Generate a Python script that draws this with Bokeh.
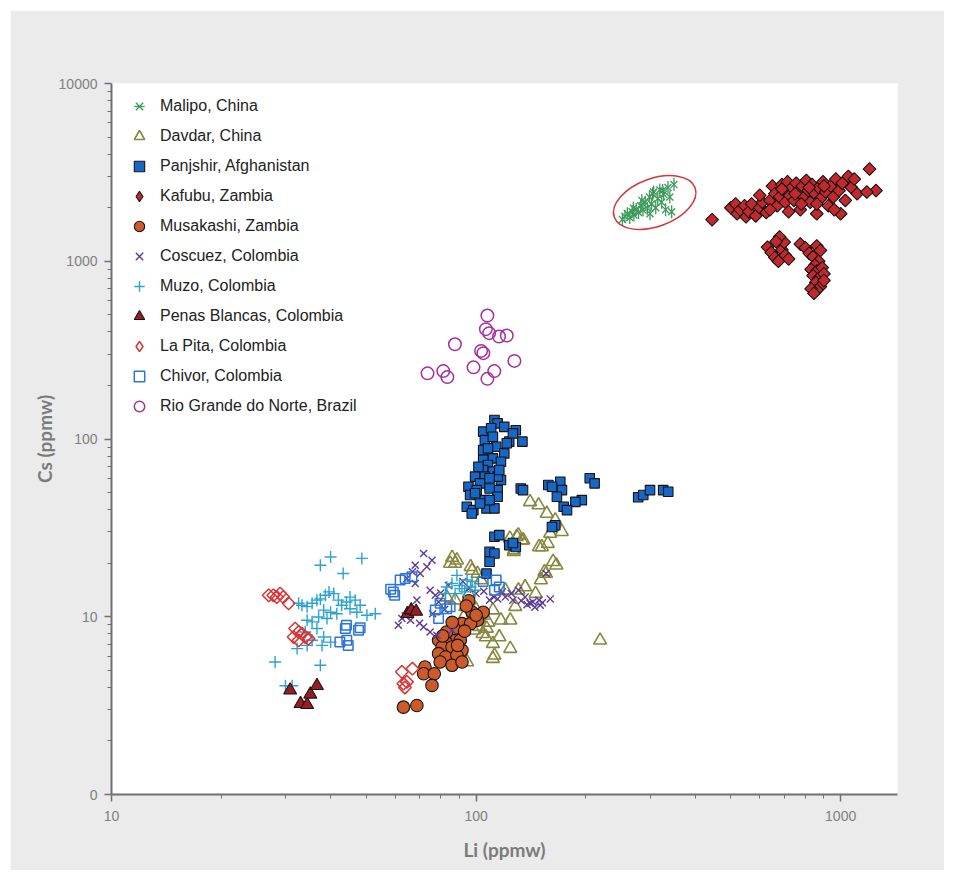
import math

from bokeh.embed import file_html
from bokeh.models import (CustomJSTickFormatter, FixedTicker, Legend,
                          LegendItem, Range1d)
from bokeh.plotting import figure
from bokeh.resources import INLINE

# ---------------------------------------------------------------------------
# Li and Cs concentrations (ppmw) of emeralds by locality
# ---------------------------------------------------------------------------
malipo_li = [252, 256, 260, 264, 268, 271, 275, 279, 283, 287, 291, 295, 299, 303, 307,
             311, 315, 319, 323, 327, 331, 336, 340, 344, 349, 270, 285, 305, 325, 300]
malipo_cs = [1720, 1790, 1850, 1760, 1900, 1820, 1960, 1880, 2050, 1940, 2150, 1990, 2300, 2100, 2450,
             2000, 2250, 2520, 2150, 2380, 1950, 2600, 2300, 1900, 2700, 1990, 2200, 2400, 2500, 1850]

davdar_li = [88.6, 87.6, 96.6, 100.9, 103.1, 95.5, 87.6, 93.5, 111.2, 102, 95.5, 98.7, 104.2, 106.4,
             115.8, 111.2, 124.1, 124.1, 112.3, 111.2, 94.5, 117, 130.7, 136.3, 145.6, 150.6, 155.6,
             162.6, 157.3, 148.8, 126.9, 129.3, 133.4, 218.9, 84.9, 83.1, 92.5, 120.3, 128.1, 86.7,
             140.6, 148.4, 156.3, 164.9, 171.8, 159.7, 151.5, 123.8, 130.7, 134.8, 126.9, 166, 154,
             86, 97.5, 100, 105, 108, 98, 102, 107]
davdar_cs = [20.8, 19.95, 19.1, 17.5, 16.1, 13.5, 12.4, 11.4, 10.9, 9.77, 9.15, 8.4, 8.03, 7.69,
             7.69, 7.06, 9.56, 6.62, 6.07, 5.81, 5.56, 9.56, 14.1, 14.7, 13.5, 16.1, 17.5,
             20.4, 25.8, 24.7, 23.7, 28.2, 27, 7.37, 19.95, 12.9, 9.97, 14.1, 11.4, 8.4,
             44.3, 42.5, 38.1, 35, 30.1, 29.4, 24.7, 27.6, 28.8, 27, 23.2, 19.5, 17.9,
             21.5, 18.2, 11, 10.2, 9.3, 10.5, 8.8, 8.6]

panjshir_li = [112.3, 114.6, 119.5, 104.6, 110, 128.5, 105.7, 111.2, 123.3, 134, 113.5, 104.6, 119.5,
               111.2, 104.6, 107.8, 117, 104.6, 111.2, 99.4, 105.7, 117, 95.3, 102.5, 114.6, 108.9,
               96.3, 105.7, 114.6, 94.3, 98.3, 106.8, 112.3, 97.3, 100.4, 121.4, 126.2, 107.8, 101.5,
               114.6, 99.4, 108.9, 102.5, 108.9, 115.8,
               132.6, 134.5, 157.8, 170.2, 172, 166.6, 161.5, 205, 211.4, 195, 187.2, 173.9, 177.6,
               278.4, 287.5, 300, 326, 336.6,
               112.3, 115.8, 123.3, 128.5, 108.9, 112.3, 108.9, 106.8, 164.9, 161.5, 126.2]
panjshir_cs = [128, 122.5, 117, 110, 115, 112, 98.6, 103, 96.6, 96.6, 90.5, 86.7, 83,
               77.8, 76.2, 71.4, 74.5, 66.9, 65.5, 61.4, 61.4, 58.8, 53.9, 56.3, 51.6, 52.7,
               48.4, 45.3, 47.3, 41.6, 39.8, 40.7, 40.7, 38.1, 51.6, 94.6, 107.6, 88.6, 69.8,
               61.4, 49.5, 45.3, 43.4, 60.1, 66.9,
               52.7, 51.6, 55.1, 57.5, 51.6, 47.3, 53.9, 60.1, 56.3, 45.3, 44.3, 41.6, 39.8,
               47, 48.4, 51.6, 51.6, 50.5,
               28.2, 28.8, 25.3, 24.7, 23.2, 22.7, 20.4, 17.5, 32.7, 32, 26]

kafubu_li = [444, 500, 515, 520, 550,
             530, 545, 560, 570, 585, 600, 610, 625, 640, 650, 660, 670, 680, 690, 700, 705, 715,
             725, 735, 745, 755, 765, 775, 785, 795, 805, 815, 825, 835, 850, 860, 870, 880, 895,
             910, 925, 940, 955, 970, 990, 1010, 1030, 1050, 1070, 1090, 1110, 1200, 1250, 1180,
             1000, 960, 720, 780, 860, 640, 600, 690, 750, 820, 900,
             630, 645, 660, 675, 690, 705, 720, 700, 680, 665,
             775, 800, 820, 840, 860, 880, 870, 850, 830, 860, 890, 840, 870, 900, 855, 880, 860,
             830, 845, 900]
kafubu_cs = [1714, 2000, 2100, 1850, 1780,
             1950, 2050, 1900, 2100, 1800, 2000, 2150, 1880, 2200, 2650, 2400, 2050, 2300, 2700,
             2500, 2150, 2800, 2350, 2600, 2200, 2750, 2450, 1950, 2650, 2300, 2850, 2500, 2150,
             2700, 2400, 1850, 2600, 2250, 2800, 2450, 2050, 2650, 2300, 2900, 2500, 2750, 2200,
             3000, 2600, 2900, 2400, 3300, 2500, 2450, 1850, 1950, 1900, 2100, 2100, 1950, 2350,
             2550, 2400, 2600, 2650,
             1200, 1120, 1050, 1000, 1160, 1080, 1030, 1280, 1370, 1290,
             1250, 1190, 1110, 1060, 1220, 1150, 1000, 950, 900, 880, 920, 830, 800, 850, 760, 720,
             690, 700, 660, 780]

musakashi_li = [95.5, 97.6, 104.6, 100.9, 91.5, 96.6, 84.9, 88.6, 78.9, 82.5, 90.5, 80.7, 85.9,
                91.5, 78.9, 82.5, 88.6, 79.7, 85.9, 91.5, 72.4, 71.8, 76.8, 75.7, 63.2, 68.8,
                94, 100, 87, 83, 93, 86, 81, 89]
musakashi_cs = [12.3, 10.6, 10.6, 9.56, 9.15, 9.15, 7.87, 7.69, 7.37, 7.2, 7.37, 6.76, 6.76,
                6.47, 6.2, 5.94, 6.07, 5.56, 5.33, 5.56, 5.22, 4.78, 4.78, 4.11, 3.1, 3.17,
                11.5, 10.2, 8.6, 8.2, 8.3, 9.3, 7.8, 6.9]

coscuez_li = [71.8, 75.7, 68.1, 73.3, 66.9, 70.3, 64.6, 68.1, 74.8, 77.3, 68.8, 78.9, 62.6, 61.2,
              66.1, 71.8, 74.8, 78.1, 85.9, 108.9, 114.6, 120.3, 126.2, 130.7, 136.3, 143.2, 148.8,
              159.7, 155.6, 140.6, 145, 150, 152, 138, 133, 125, 118, 112, 105, 100, 96, 92, 84,
              80, 82, 76, 70, 64]
coscuez_cs = [22.7, 20.8, 19.5, 19.1, 17.9, 17.5, 16.4, 15.4, 14.1, 13.2, 12.4, 12.1, 9.77, 8.96,
              9.56, 8.76, 8.2, 7.87, 8.4, 12.4, 12.6, 12.9, 12.4, 14.1, 12.9, 12.1, 12.4,
              12.6, 17.5, 11.9, 11.3, 11.6, 12, 11.7, 12.3, 13.5, 13.8, 12.9, 13.9, 13.5, 14.5, 15.8, 15,
              13.6, 11, 10.4, 9.2, 10.1]

muzo_li = [37.4, 39.9, 48.6, 43.2, 32.6, 33.3, 34.4, 35.5, 36.6, 37.4, 38.6, 39.5, 40.7, 41.9,
           42.8, 44.1, 45.1, 46.6, 48.1, 38.2, 39.9, 41.5, 37.0, 39.0, 35.5, 34.4, 36.6, 34.0,
           38.2, 35.5, 37.8, 39.9, 32.3, 28.1, 37.4, 31.3, 30, 50.2, 52.9, 47.1, 45.1, 34.4,
           83.1, 85.9, 88.6, 91.5, 94.5, 96.6, 99.4, 87.6, 82.5, 90, 93, 97.5]
muzo_cs = [19.5, 21.7, 21.3, 17.5, 11.9, 11.6, 11.4, 11.9, 12.4, 12.6, 13.2, 13.8, 13.5, 12.4,
           11.6, 12.1, 12.9, 12.4, 11.6, 10.9, 10.6, 10.4, 9.97, 9.77, 9.36, 9.56, 8.58, 8.2,
           7.69, 7.37, 6.9, 7.2, 6.62, 5.56, 5.33, 4.09, 4.09, 10.2, 10.4, 10.6, 11.1, 6.9,
           14.7, 15.4, 17.1, 14.4, 16.1, 14.7, 14.1, 13.5, 13.5, 15, 13.8, 15.8]

penas_li = [30.9, 33.0, 34.4, 35.1, 36.6, 64.8, 66.4, 68.5]
penas_cs = [3.86, 3.24, 3.2, 3.66, 4.09, 10.4, 10.9, 10.7]

lapita_li = [27, 27.8, 28.4, 29.0, 29.6, 30.6, 31.9, 32.6, 33.3, 31.6, 34.0, 34.7, 32.6,
             62.6, 66.9, 63.2, 63.8, 64.6]
lapita_cs = [13.2, 13.2, 12.9, 13.5, 12.9, 11.9, 8.58, 8.2, 8.03, 7.69, 7.69, 7.53, 7.37,
             4.9, 5.1, 4.2, 4.0, 4.3]

chivor_li = [44.1, 43.8, 47.6, 48.1, 42.3, 44.2, 44.6, 59.3, 59.8, 61.9, 63.9, 66.7, 79.7, 77.3,
             78.9, 83.1, 84.9, 113.5, 115.8, 104.6, 112.3, 58.3]
chivor_cs = [8.96, 8.58, 8.4, 8.66, 7.2, 7.37, 6.9, 13.8, 13.2, 16.1, 16.4, 16.8, 11.9, 10.9,
             9.77, 11.1, 11.4, 16.1, 14.7, 15.8, 14.1, 14.3]

rio_li = [107.4, 106.4, 108.6, 115.6, 121.4, 87.5, 103.2, 104.7, 127.4, 98.4, 112.2, 73.6, 81.3,
          83.4, 107.4]
rio_cs = [495, 415, 394, 377, 382, 341, 313, 304, 275, 253, 241, 234, 241, 223, 218]

# outline drawn round the Malipo group
malipo_ring_li = 309
malipo_ring_cs = 2140

x_major = [10, 100, 1000]
x_minor = [20, 30, 40, 50, 60, 70, 80, 90, 200, 300, 400, 500, 600, 700, 800, 900]
y_major = [1, 10, 100, 1000, 10000]
y_minor = [m * d for d in (1, 10, 100, 1000) for m in range(2, 10)]

AXIS_GREY = "#707070"
LABEL_GREY = "#7b7b7b"
EDGE = "#141414"

p = figure(width=934, height=860, x_axis_type="log", y_axis_type="log",
           x_range=Range1d(10, 1432), y_range=Range1d(1, 10000),
           output_backend="svg", toolbar_location=None,
           min_border_left=101, min_border_right=47, min_border_top=73, min_border_bottom=76,
           background_fill_color="white", border_fill_color="#ebebeb",
           outline_line_color=None)
p.margin = (10, 10, 10, 10)
p.grid.visible = False

p.xaxis.ticker = FixedTicker(ticks=x_major, minor_ticks=x_minor)
p.yaxis.ticker = FixedTicker(ticks=y_major, minor_ticks=y_minor)
fmt = "return tick < 1.5 ? '0' : Math.round(tick).toString();"
p.xaxis.formatter = CustomJSTickFormatter(code=fmt)
p.yaxis.formatter = CustomJSTickFormatter(code=fmt)
p.xaxis.axis_label = "Li (ppmw)"
p.yaxis.axis_label = "Cs (ppmw)"

for ax in (p.xaxis[0], p.yaxis[0]):
    ax.axis_line_color = AXIS_GREY
    ax.axis_line_width = 2
    ax.major_tick_line_color = AXIS_GREY
    ax.major_tick_line_width = 1.5
    ax.minor_tick_line_color = AXIS_GREY
    ax.minor_tick_line_width = 1
    ax.major_tick_in = 0
    ax.major_tick_out = 7
    ax.minor_tick_in = 0
    ax.minor_tick_out = 4
    ax.major_label_text_font = "Liberation Sans"
    ax.major_label_text_font_size = "14px"
    ax.major_label_text_color = "#808080"
    ax.axis_label_text_font = "Lato"
    ax.axis_label_text_font_style = "bold"
    ax.axis_label_text_font_size = "19px"
    ax.axis_label_text_color = LABEL_GREY
p.xaxis.major_label_standoff = 9
p.xaxis.axis_label_standoff = 14
p.yaxis.major_label_standoff = 7
p.yaxis.axis_label_standoff = 0

items = []

# Malipo: six-armed star made of an x and a vertical bar
r1 = p.scatter(malipo_li, malipo_cs, marker="x", size=10, line_color="#3d9a5a", line_width=1.3)
r2 = p.scatter(malipo_li, malipo_cs, marker="dash", angle=math.pi / 2, size=13,
               line_color="#3d9a5a", line_width=1.3)
items.append(LegendItem(label="Malipo, China", renderers=[r1, r2]))

r = p.scatter(davdar_li, davdar_cs, marker="triangle", size=13, fill_color=None,
              line_color="#87873f", line_width=1.6)
items.append(LegendItem(label="Davdar, China", renderers=[r]))

r = p.scatter(panjshir_li, panjshir_cs, marker="square", size=9.5, fill_color="#1866c6",
              line_color=EDGE, line_width=1.1)
items.append(LegendItem(label="Panjshir, Afghanistan", renderers=[r]))

# diamonds are squares turned by 45 degrees; legend keys do not rotate, so the
# key comes from a hidden diamond-marker copy of the same points
p.scatter(kafubu_li, kafubu_cs, marker="square", angle=math.pi / 4, size=9, fill_color="#c3282d",
          line_color=EDGE, line_width=1.1)
key = p.scatter(kafubu_li, kafubu_cs, marker="diamond", fill_color="#c3282d", line_color=EDGE,
                line_width=1.1, visible=False)
items.append(LegendItem(label="Kafubu, Zambia", renderers=[key]))

r = p.scatter(musakashi_li, musakashi_cs, marker="circle", size=12.5, fill_color="#cc5a2b",
              line_color=EDGE, line_width=1.1)
items.append(LegendItem(label="Musakashi, Zambia", renderers=[r]))

r = p.scatter(coscuez_li, coscuez_cs, marker="x", size=10, line_color="#5c3b94", line_width=1.4)
items.append(LegendItem(label="Coscuez, Colombia", renderers=[r]))

r = p.scatter(muzo_li, muzo_cs, marker="cross", size=12, line_color="#2ba3d0", line_width=1.4)
items.append(LegendItem(label="Muzo, Colombia", renderers=[r]))

r = p.scatter(penas_li, penas_cs, marker="triangle", size=13, fill_color="#9a1d22",
              line_color=EDGE, line_width=1.1)
items.append(LegendItem(label="Penas Blancas, Colombia", renderers=[r]))

p.scatter(lapita_li, lapita_cs, marker="square", angle=math.pi / 4, size=9, fill_color=None,
          line_color="#d93434", line_width=1.5)
key = p.scatter(lapita_li, lapita_cs, marker="diamond", fill_color=None, line_color="#d93434",
                line_width=1.5, visible=False)
items.append(LegendItem(label="La Pita, Colombia", renderers=[key]))

r = p.scatter(chivor_li, chivor_cs, marker="square", size=9.5, fill_color=None,
              line_color="#2b74d8", line_width=1.5)
items.append(LegendItem(label="Chivor, Colombia", renderers=[r]))

r = p.scatter(rio_li, rio_cs, marker="circle", size=12.5, fill_color=None,
              line_color="#a5309d", line_width=1.5)
items.append(LegendItem(label="Rio Grande do Norte, Brazil", renderers=[r]))

p.ellipse(x=[malipo_ring_li], y=[malipo_ring_cs], width=86, height=48, angle=0.35,
          width_units="screen", height_units="screen", fill_color=None,
          line_color="#d0383c", line_width=1.5)

legend = Legend(items=items, location="top_left", margin=10, padding=8,
                glyph_width=36, glyph_height=26, label_height=26, spacing=4,
                label_standoff=3, label_text_font="Liberation Sans",
                label_text_font_size="16px", label_text_color="#222222",
                border_line_color=None, background_fill_alpha=0,
                inactive_fill_alpha=0)
p.add_layout(legend)

with open("out.html", "w") as f:
    f.write(file_html(p, INLINE))
